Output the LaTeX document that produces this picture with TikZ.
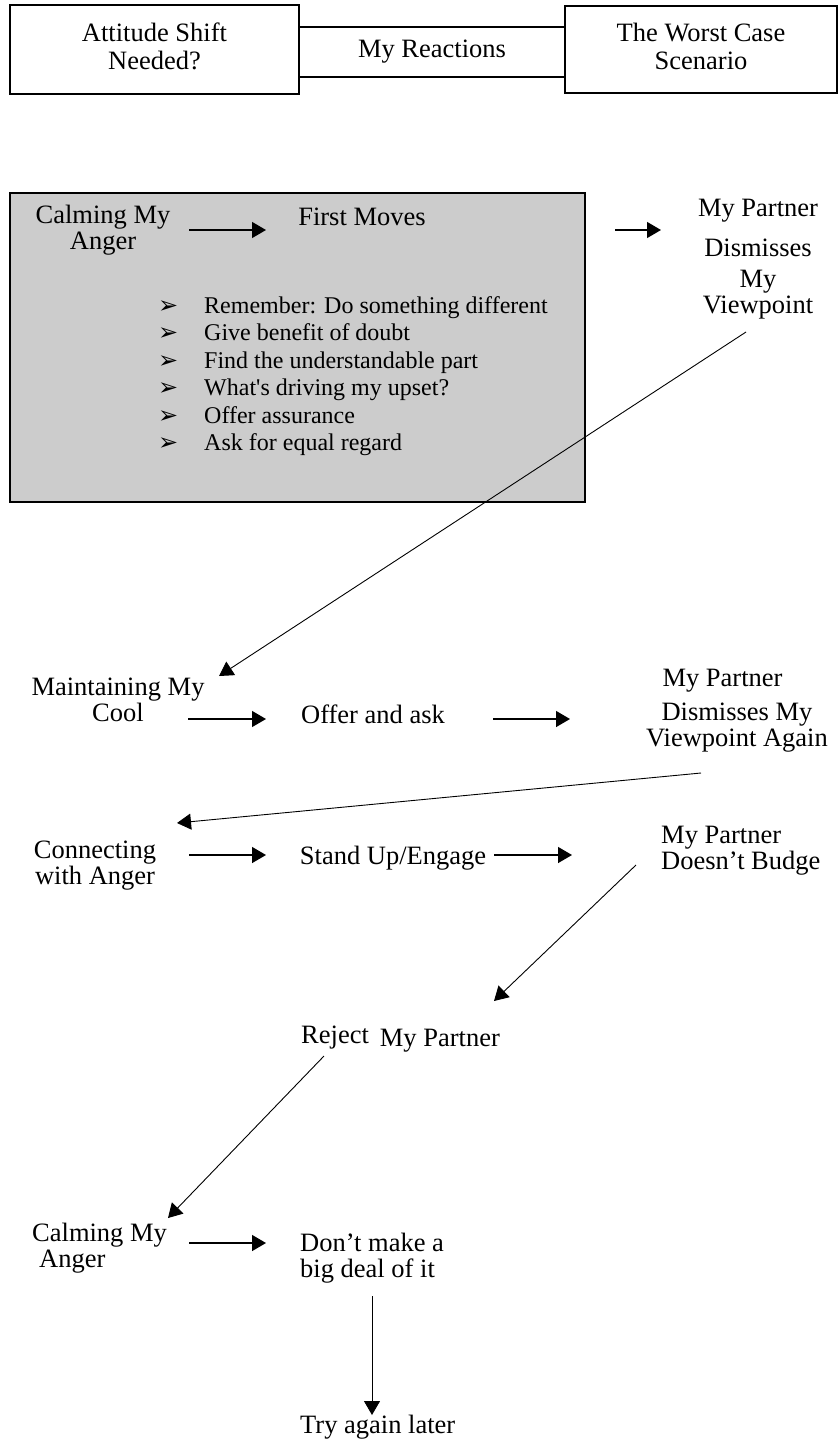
\documentclass[tikz,border=0pt]{standalone}
\usepackage{fontspec}
\setmainfont{Liberation Serif}
\newfontfamily\symfont{DejaVu Sans}
\usetikzlibrary{arrows.meta,calc}
\definecolor{panelgray}{RGB}{204,204,204}
\newcommand\ctab[1]{\begin{tabular}[t]{@{}c@{}}#1\end{tabular}}
\newcommand\ltab[1]{\begin{tabular}[t]{@{}l@{}}#1\end{tabular}}
\newcommand\bitem[1]{\makebox[46pt][l]{\symfont\fontsize{24}{24}\selectfont ➢}#1}
\tikzset{
  txt/.style={inner sep=0pt, font=\fontsize{26.5}{26}\selectfont},
  topbox/.style={draw, line width=1.6pt, inner sep=0pt, font=\fontsize{26.5}{28}\selectfont},
  arr/.style={-{Triangle[length=14pt,width=16pt]}, line width=1.4pt},
  thinarr/.style={-{Triangle[length=14pt,width=16pt]}, line width=0.9pt},
}
\begin{document}
\begin{tikzpicture}[x=1pt,y=-1pt]
\useasboundingbox (0,0) rectangle (838,1440);
% top boxes
\node[topbox, minimum width=289pt, minimum height=89pt] (att) at (154.5,49.5)
  {\raisebox{1.5pt}{\begin{tabular}{@{}c@{}}Attitude Shift\\Needed?\end{tabular}}};
\node[topbox, minimum width=266pt, minimum height=50pt] (react) at (432,52)
  {\raisebox{5pt}{My Reactions}};
\node[topbox, minimum width=272pt, minimum height=87pt] (worst) at (701,49.5)
  {\raisebox{1.5pt}{\begin{tabular}{@{}c@{}}The Worst Case\\Scenario\end{tabular}}};
% panel
\node[draw, fill=panelgray, line width=1.5pt, minimum width=575pt, minimum height=309pt, inner sep=0pt] (panel) at (297.5,347.5) {};
\node[txt, anchor=base] (cma1) at (103,223) {\ctab{Calming My\\Anger}};
\node[txt, anchor=base] (fm) at (362,225) {First Moves};
\node[txt, anchor=base west, font=\fontsize{24}{26}\selectfont] (bl) at (158,313) {\renewcommand\arraystretch{1.06}\ltab{%
  \bitem{Remember: Do something different}\\
  \bitem{Give benefit of doubt}\\
  \bitem{Find the understandable part}\\
  \bitem{What\textquotesingle s driving my upset?}\\
  \bitem{Offer assurance}\\
  \bitem{Ask for equal regard}}};
\node[txt, anchor=base] (dmv1) at (758,216) {\ctab{My Partner\\[14pt]Dismisses\\[5pt]My\\[0pt]Viewpoint}};
% second row
\node[txt, anchor=base] (mmc) at (118,695) {\ctab{Maintaining My\\Cool}};
\node[txt, anchor=base] (oaa) at (373,723) {Offer and ask};
\node[txt, anchor=base] (dmv2) at (737,686) {\ctab{My Partner\hspace*{29pt}\\[8pt]Dismisses My\\Viewpoint Again}};
% third row
\node[txt, anchor=base] (cwa) at (95,858) {\ctab{Connecting\\with Anger}};
\node[txt, anchor=base] (sue) at (393,864) {Stand Up/Engage};
\node[txt, anchor=base west] (pdb) at (661,843) {\ltab{My Partner\\Doesn’t Budge}};
% reject
\node[txt, anchor=base west] (rej) at (301,1043) {Reject\hspace{11pt}\raisebox{-3pt}{My Partner}};
% bottom
\node[txt, anchor=base west] (cma2) at (32,1241) {\ltab{Calming My\\\hspace*{7pt}Anger}};
\node[txt, anchor=base west] (dmb) at (300,1251) {\ltab{Don’t make a\\big deal of it}};
\node[txt, anchor=base west] (tal) at (300,1433) {Try again later};
% connectors
\draw[arr] ($(cma1.base)+(86,7)$) -- ($(fm.base)+(-96,5)$);
\draw[arr] ($(fm.base)+(253,5)$) -- ($(dmv1.base)+(-97,14)$);
\draw[thinarr] ($(dmv1.base)+(-12,116)$) -- ($(mmc.base)+(101,-19)$);
\draw[arr] ($(mmc.base)+(70,24)$) -- ($(oaa.base)+(-107,-4)$);
\draw[arr] ($(oaa.base)+(120,-4)$) -- ($(dmv2.base)+(-167,33)$);
\draw[thinarr] ($(dmv2.base)+(-36,87)$) -- ($(cwa.base)+(82,-35)$);
\draw[arr] ($(cwa.base)+(94,-3)$) -- ($(sue.base)+(-127,-9)$);
\draw[arr] ($(sue.base)+(101,-9)$) -- ($(pdb.base west)+(-89,12)$);
\draw[thinarr] ($(pdb.base west)+(-25,22)$) -- ($(rej.base west)+(193,-42)$);
\draw[thinarr] ($(rej.base west)+(23,13)$) -- ($(cma2.base west)+(136,-23)$);
\draw[arr] ($(cma2.base west)+(157,2)$) -- ($(dmb.base west)+(-34,-8)$);
\draw[thinarr] ($(dmb.base west)+(72,45)$) -- ($(tal.base west)+(72,-18)$);
\end{tikzpicture}
\end{document}
